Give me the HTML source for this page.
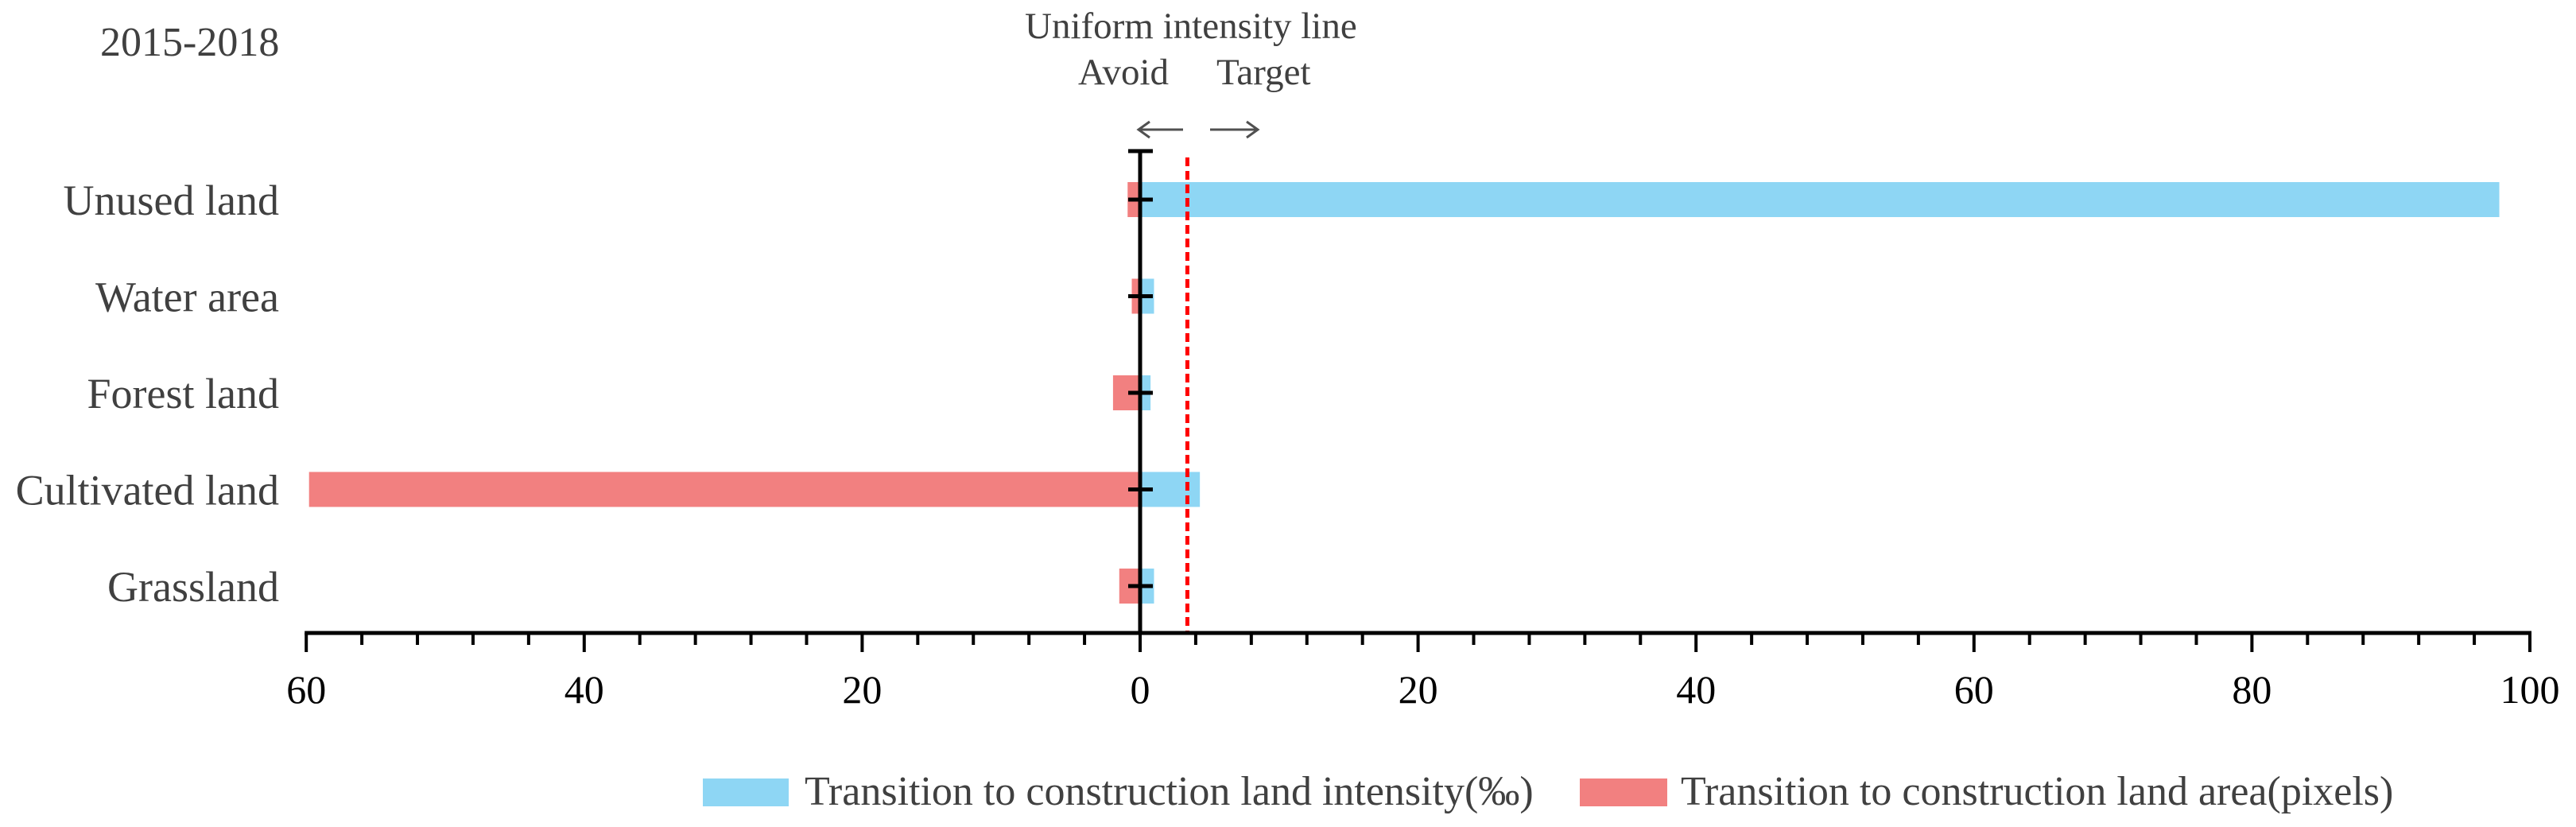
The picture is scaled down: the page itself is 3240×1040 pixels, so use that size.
<!DOCTYPE html>
<html><head><meta charset="utf-8"><style>
html,body{margin:0;padding:0;background:#fff;}
svg{display:block;}
text{font-family:"Liberation Serif",serif;fill:#404040;}
</style></head><body>
<svg id="chart" width="3240" height="1040" viewBox="0 0 3240 1040">
<text x="126" y="70" font-size="52">2015-2018</text>
<text x="1289" y="48" font-size="47">Uniform intensity line</text>
<text x="1356" y="106" font-size="47">Avoid</text>
<text x="1530" y="106" font-size="47">Target</text>
<g stroke="#505050" stroke-width="3" fill="none">
<path d="M1488 163 H1432 M1446 153 L1432 163 L1446 173"/>
<path d="M1522 163 H1582 M1568 153 L1582 163 L1568 173"/>
</g>
<g id="bars"></g>
<g id="axes"></g>
<g>
<rect x="884" y="979" width="108" height="35" fill="#8ED6F4"/>
<text x="1012" y="1012" font-size="52">Transition to construction land intensity(‰)</text>
<rect x="1987" y="979" width="110" height="35" fill="#F28080"/>
<text x="2114" y="1012" font-size="52">Transition to construction land area(pixels)</text>
</g>
</svg>
<script>
const categories = ["Unused land","Water area","Forest land","Cultivated land","Grassland"];
const intensityValues = [97.8, 1.0, 0.75, 4.3, 1.0];
const areaValues = [0.9, 0.6, 1.95, 59.8, 1.5];
const uniformLine = [3.4];
const tickValues = [-60,-40,-20,0,20,40,60,80,100];
const tickLabels = ["60","40","20","0","20","40","60","80","100"];

const NS = "http://www.w3.org/2000/svg";
const X0 = 1434, PX = 17.48;
const xs = v => X0 + v * PX;
const rowY = i => 251 + i * 121.5;
const BH = 44;
function mk(tag, attrs, parent){const e=document.createElementNS(NS,tag);for(const k in attrs)e.setAttribute(k,attrs[k]);parent.appendChild(e);return e;}
const bars = document.getElementById('bars');
const axes = document.getElementById('axes');

categories.forEach((c,i)=>{
  const y = rowY(i);
  const r = mk('rect',{x:xs(-areaValues[i]),y:y-BH/2,width:xs(0)-xs(-areaValues[i]),height:BH,fill:'#F28080'},bars);
  
  
  const b = mk('rect',{x:xs(0),y:y-BH/2,width:xs(intensityValues[i])-xs(0),height:BH,fill:'#8ED6F4'},bars);
  
  
  const t = mk('text',{x:351,y:y+19,'font-size':54,'text-anchor':'end'},axes);
  t.textContent = c;
  
  
  const tk = mk('line',{x1:1419,x2:1450,y1:y,y2:y,stroke:'#000','stroke-width':5},axes);
  
  
});

const ul = mk('line',{x1:xs(uniformLine[0]),x2:xs(uniformLine[0]),y1:198,y2:796,stroke:'#FF0000','stroke-width':5,'stroke-dasharray':'11 6'},axes);



const ya = mk('line',{x1:X0,x2:X0,y1:190,y2:796,stroke:'#000','stroke-width':5},axes);


const cap = mk('line',{x1:1419,x2:1450,y1:190,y2:190,stroke:'#000','stroke-width':5},axes);



const xa = mk('line',{x1:xs(-60)-2,x2:xs(100)+2,y1:796,y2:796,stroke:'#000','stroke-width':5},axes);


for(let v=-60; v<=100; v+=4){
  const major = v%20===0;
  const l = mk('line',{x1:xs(v),x2:xs(v),y1:796,y2:796+(major?24:15),stroke:'#000','stroke-width':4},axes);
  
  
}
tickValues.forEach((v,i)=>{
  const t = mk('text',{x:xs(v),y:884,'font-size':50,'text-anchor':'middle',fill:'#000'},axes);
  t.style.fill='#000';
  t.textContent = tickLabels[i];
  
  
});
</script>
</body></html>
